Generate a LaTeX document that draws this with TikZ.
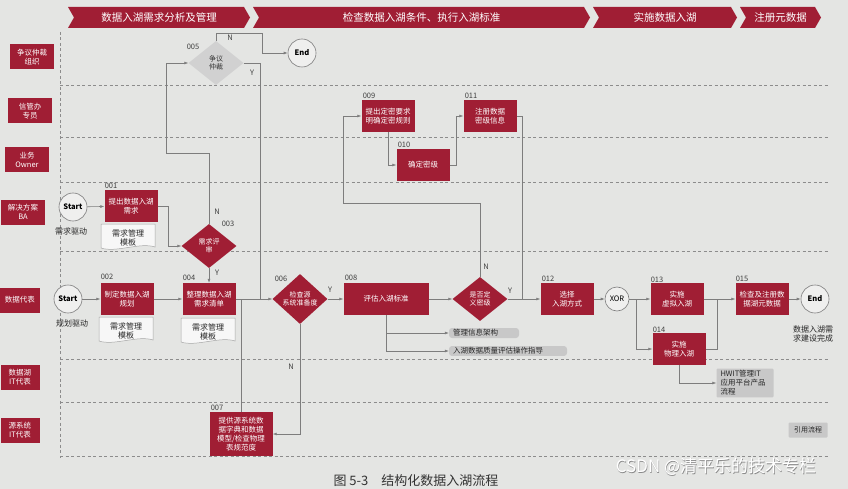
\documentclass[tikz,border=0pt]{standalone}
\usepackage{fontspec}
\setmainfont{Noto Sans CJK SC}
\usetikzlibrary{shapes.geometric, arrows.meta, positioning}

\definecolor{lakered}{RGB}{160,30,52}
\definecolor{paper}{RGB}{228,229,227}
\definecolor{flowgray}{RGB}{125,125,125}
\definecolor{refgray}{RGB}{200,200,200}

% document symbol: name, centre, text
\newcommand{\docnote}[3]{%
  \coordinate (#1c) at (#2);
  \draw[draw=black!35, line width=0.5pt, fill=white!70!paper]
    ([shift={(-27,-13)}]#1c) -- ([shift={(27,-13)}]#1c) -- ([shift={(27,10)}]#1c)
    .. controls ([shift={(12,5)}]#1c) and ([shift={(-12,16)}]#1c) .. ([shift={(-27,11)}]#1c) -- cycle;
  \node[doctext] (#1) at ([yshift=-1]#1c) {#3};
}

\begin{document}
\begin{tikzpicture}[x=1pt, y=-1pt,
    lane/.style={fill=lakered, text=white, font=\fontsize{7.5}{9}\selectfont, align=center, minimum width=44pt, minimum height=25pt, inner sep=1pt},
    task/.style={fill=lakered, text=white, font=\fontsize{7.5}{9}\selectfont, align=center, minimum width=53pt, minimum height=32pt, inner sep=1pt},
    decision/.style={diamond, fill=lakered, text=white, font=\fontsize{7}{8.5}\selectfont, align=center, minimum width=55pt, minimum height=44pt, inner sep=0pt},
    event/.style={circle, draw=flowgray, line width=0.6pt, fill=white!40!paper, font=\bfseries\fontsize{7.5}{9}\selectfont, minimum size=28pt, inner sep=0pt},
    reflist/.style={fill=refgray, rounded corners=3pt, font=\fontsize{7.5}{9}\selectfont, text=black!85, inner xsep=4pt, inner ysep=1.5pt, align=left},
    doctext/.style={font=\fontsize{8}{9.5}\selectfont, align=center, text=black!85},
    note/.style={font=\fontsize{8}{9.5}\selectfont, align=center, text=black!85},
    idl/.style={font=\fontsize{7.5}{9}\selectfont, text=black!75},
    flow/.style={draw=flowgray, line width=0.6pt, -{Latex[length=4pt, width=3pt]}},
    joint/.style={draw=flowgray, line width=0.6pt},
    swim/.style={draw=black!45, dash pattern=on 3pt off 2.5pt, line width=0.5pt}
]
    % Paper and frame
    \fill[paper] (0,0) rectangle (848,489);
    \useasboundingbox (0,0) rectangle (848,489);

    % Swimlane separators
    \draw[swim] (60,32) -- (60,458);
    \foreach \y in {85,137,182,251,359,402,456}
        \draw[swim] (60,\y) -- (828,\y);

    % Phase chevrons
    \foreach \xa/\xb/\txt [count=\i] in {68/250/数据入湖需求分析及管理, 253/590/检查数据入湖条件、执行入湖标准, 593/737/实施数据入湖, 740/821/注册元数据}{
        \fill[lakered] (\xa,7) -- (\xb-6,7) -- (\xb,17.5) -- (\xb-6,28) -- (\xa,28) -- (\xa+6,17.5) -- cycle;
        \node[font=\fontsize{10.5}{12}\selectfont, text=white] (phase\i) at ({(\xa+\xb)/2},17.5) {\txt};
    }

    % Lane labels
    \node[lane] (laneArb) at (32,57) {争议仲裁\\组织};
    \node[lane] (laneOffice) at (30,111) {信管办\\专员};
    \node[lane] (laneOwner) at (27,160) {业务\\Owner};
    \node[lane] (laneBA) at (23,212) {解决方案\\BA};
    \node[lane, minimum width=40pt] (laneRep) at (20,300) {数据代表};
    \node[lane, minimum width=39pt] (laneLakeIT) at (20,377) {数据湖\\IT代表};
    \node[lane, minimum width=39pt] (laneSrcIT) at (20,430) {源系统\\IT代表};

    % Demand analysis
    \node[event] (start1) at (73,207) {Start};
    \node[note] (drv1) at (71,231) {需求驱动};
    \node[task] (n001) at (131,206) {提出数据入湖\\需求};
    \docnote{doc001}{128,237}{需求管理\\模板}
    \node[event] (start2) at (68,299) {Start};
    \node[note] (drv2) at (72,323) {规划驱动};
    \node[task] (n002) at (127,299) {制定数据入湖\\规划};
    \docnote{doc002}{126,330}{需求管理\\模板}
    \node[decision] (n003) at (209,246) {需求评\\审};
    \node[task] (n004) at (209,299) {整理数据入湖\\需求清单};
    \docnote{doc004}{208,331}{需求管理\\模板}
    \node[decision, fill=black!18, text=black!80] (n005) at (216,63) {争议\\仲裁};
    \node[event] (end1) at (302,53) {End};

    % Checks and standards
    \node[decision] (n006) at (300,299) {检查源\\系统准备度};
    \node[task, minimum width=63pt, minimum height=44pt] (n007) at (241,434) {提供源系统数\\据字典和数据\\模型/检查物理\\表规范度};
    \node[task, minimum width=85pt] (n008) at (386,299) {评估入湖标准};
    \node[reflist, text width=62pt] (ref1) at (484,333) {管理信息架构};
    \node[reflist, text width=110pt] (ref2) at (508,351) {入湖数据质量评估操作指导};
    \node[decision] (nlevel) at (480,299) {是否定\\义密级};
    \node[task] (n009) at (388,116) {提出定密要求\\明确定密规则};
    \node[task] (n010) at (423,165) {确定密级};
    \node[task] (n011) at (490,116) {注册数据\\密级信息};
    \node[task] (n012) at (567,299) {选择\\入湖方式};

    % Implementation and metadata
    \node[event, font=\fontsize{7.5}{9}\selectfont, minimum size=24pt] (xor) at (617,299) {XOR};
    \node[task] (n013) at (677,299) {实施\\虚拟入湖};
    \node[task] (n014) at (679,349) {实施\\物理入湖};
    \node[reflist, rounded corners=1pt, text width=49pt, inner ysep=2pt] (hwit) at (745,383) {HWIT管理IT\\应用平台产品\\流程};
    \node[task] (n015) at (762,299) {检查及注册数\\据湖元数据};
    \node[event] (end2) at (815,299) {End};
    \node[note] (done) at (813,334) {数据入湖需\\求建设完成};
    \node[reflist, rounded corners=1pt, font=\fontsize{7}{8}\selectfont, minimum width=39pt, minimum height=15pt] (legend) at (808,430) {引用流程};

    % Step numbers
    \node[idl] (id001) at (111,186) {001};
    \node[idl] (id002) at (107,277) {002};
    \node[idl] (id003) at (228,224) {003};
    \node[idl] (id004) at (189,278) {004};
    \node[idl] (id005) at (193,47) {005};
    \node[idl] (id006) at (281,279) {006};
    \node[idl] (id007) at (217,408) {007};
    \node[idl] (id008) at (351,278) {008};
    \node[idl] (id009) at (369,96) {009};
    \node[idl] (id010) at (404,145) {010};
    \node[idl] (id011) at (471,96) {011};
    \node[idl] (id012) at (548,279) {012};
    \node[idl] (id013) at (657,280) {013};
    \node[idl] (id014) at (659,330) {014};
    \node[idl] (id015) at (742,279) {015};

    % Branch labels
    \node[idl] (yn003n) at (217,212) {N};
    \node[idl] (yn003y) at (217,273) {Y};
    \node[idl] (yn005n) at (230,38) {N};
    \node[idl] (yn005y) at (252,73) {Y};
    \node[idl] (yn006y) at (330,290) {Y};
    \node[idl] (yn006n) at (291,367) {N};
    \node[idl] (ynlvln) at (486,267) {N};
    \node[idl] (ynlvly) at (510,291) {Y};

    % Bend points
    \coordinate (k1) at (166,153);
    \coordinate (k2) at (262,33);
    \coordinate (k3) at (260,299);
    \coordinate (k4) at (343,203);
    \coordinate (k5) at (522,299);
    \coordinate (k6) at (717,299);

    % Connectors
    \draw[flow] (start1) -- (n001);
    \draw[flow] (n001.east) -- ++(11,0) |- (n003.west);
    \draw[flow] (n003.north) |- (k1) |- (n005.west);
    \draw[flow] (n005.north) |- (k2) |- (end1.west);
    \draw[joint] (n005.east) -| (k3);
    \draw[flow] (n003) -- (n004);
    \draw[flow] (start2) -- (n002);
    \draw[flow] (n002) -- (n004);
    \draw[flow] (n004) -- (n006);
    \draw[joint] (n007.north) -- (n007.north |- n004.east);
    \draw[flow] (n006.south) |- (n007.east);
    \draw[flow] (n006) -- (n008);
    \draw[flow] (n008) -- (nlevel);
    \draw[flow] (n008.south) |- (ref1.west);
    \draw[flow] (n008.south) |- (ref2.west);
    \draw[flow] (nlevel.north) |- (k4) |- (n009.west);
    \draw[flow] (n009.south) |- (n010.west);
    \draw[flow] (n010.east) -- ++(7,0) |- (n011.west);
    \draw[joint] (n011.east) -| (k5);
    \draw[flow] (nlevel) -- (n012);
    \draw[flow] (n012) -- (xor);
    \draw[flow] (xor) -- (n013);
    \draw[flow] (xor.east) -- ++(7,0) |- (n014.west);
    \draw[flow] (n013) -- (n015);
    \draw[joint] (n014.east) -| (k6);
    \draw[flow] (n014.south) |- (hwit.west);
    \draw[flow] (n015) -- (end2);

    % Caption and watermark
    \node[font=\fontsize{13}{15}\selectfont, text=black!80] (caption) at (416,481) {图 5-3\quad 结构化数据入湖流程};
    \node[font=\fontsize{17}{19}\selectfont, text=black!45] (markshadow) at (716.6,467.6) {CSDN @清平乐的技术专栏};
    \node[font=\fontsize{17}{19}\selectfont, text=white] (mark) at (716,467) {CSDN @清平乐的技术专栏};
\end{tikzpicture}
\end{document}
